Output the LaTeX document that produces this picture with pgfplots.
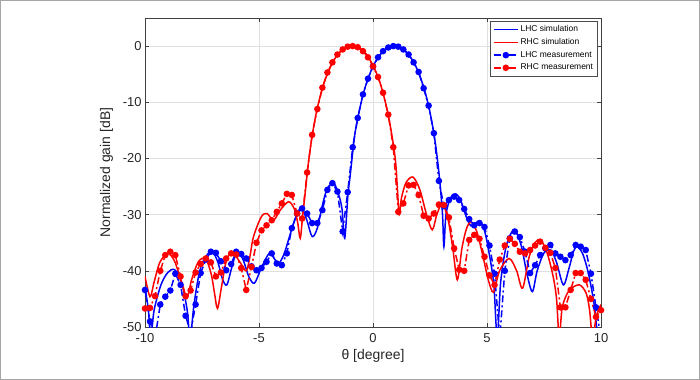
\documentclass[border=0pt]{standalone}
\usepackage{pgfplots}
\pgfplotsset{compat=1.18}
\usepackage{fontspec}
\setmainfont{Liberation Sans}
\definecolor{mblue}{RGB}{0,0,255}
\definecolor{mred}{RGB}{255,0,0}
\begin{document}
\begin{tikzpicture}
\begin{axis}[
  scale only axis, width=456bp, height=309bp,
  xmin=-10, xmax=10, ymin=-50, ymax=5,
  xtick={-10,-5,0,5,10}, xticklabels={-10,-5,0,5,10},
  ytick={-50,-40,-30,-20,-10,0}, yticklabels={-50,-40,-30,-20,-10,0},
  grid=major, major grid style={color=black!12, line width=0.6bp},
  axis line style={color=black!75, line width=0.6bp},
  tick style={color=black!75, line width=0.6bp},
  tick align=inside, major tick length=4bp,
  ticklabel style={font=\fontsize{13}{15}\selectfont, text=black!85},
  xticklabel style={yshift=-3bp},
  label style={font=\fontsize{14}{16}\selectfont, text=black!85},
  ylabel style={yshift=3bp},
  xlabel={θ [degree]}, ylabel={Normalized gain [dB]},
  legend cell align=left,
  legend style={at={(0.993,0.99)}, anchor=north east, font=\fontsize{8.5}{10}\selectfont,
    draw=black!70, line width=0.5bp, fill=white, inner xsep=2.5bp, inner ysep=2.5bp, row sep=1.2bp},
  legend image code/.code={\draw[mark repeat=2,mark phase=2] plot coordinates {(0bp,0bp) (12bp,0bp) (24bp,0bp)};},
]
% LHC simulation
\addplot[mblue, line width=1.5bp, smooth, tension=0.5] coordinates {
(-10,-43)(-9.85,-47)(-9.75,-52)(-9.6,-47)(-9.3,-42.5)(-9.0,-40.3)(-8.7,-39.8)(-8.4,-42)(-8.15,-47)(-8.02,-52)(-7.85,-46)(-7.6,-40)(-7.3,-37.3)(-7.05,-36.5)(-6.8,-38.5)(-6.6,-41.5)(-6.41,-42.5)(-6.2,-39.5)(-5.97,-36.6)(-5.7,-38)(-5.45,-41)(-5.2,-42.2)(-4.9,-39.5)(-4.55,-36.9)(-4.3,-38)(-4.14,-38.7)(-3.9,-37)(-3.55,-32.4)(-3.3,-29.5)(-3.11,-28.9)(-2.9,-31)(-2.67,-33.9)(-2.45,-32.5)(-2.2,-28)(-2.0,-25.3)(-1.72,-24.4)(-1.5,-26.5)(-1.36,-29)(-1.24,-34.2)(-1.1,-26.5)(-1.0,-23)(-0.8,-15.8)(-0.6,-11.5)(-0.4,-8.1)(-0.2,-5.6)(0,-3.6)(0.2,-2.2)(0.4,-1.1)(0.6,-0.4)(0.8,-0.05)(0.94,0)(1.1,-0.07)(1.3,-0.45)(1.5,-1.2)(1.7,-2.3)(1.9,-3.8)(2.1,-5.8)(2.3,-8.4)(2.5,-11.8)(2.7,-16.3)(2.85,-21)(2.95,-25)(3.05,-30)(3.11,-35.7)(3.2,-30)(3.4,-27)(3.63,-26.3)(3.85,-27.5)(4.1,-30.5)(4.3,-32)(4.5,-31.5)(4.7,-31.2)(4.9,-33)(5.1,-37)(5.3,-42.5)(5.45,-52)(5.6,-42)(5.85,-35.5)(6.19,-32.7)(6.5,-35.5)(6.75,-40.5)(6.99,-43.7)(7.2,-40)(7.5,-36.8)(7.8,-36.3)(8.05,-38.5)(8.35,-42.5)(8.6,-39.5)(8.8,-36.5)(8.96,-35.7)(9.2,-37)(9.45,-40.5)(9.7,-46)(9.85,-52)
};
\addlegendentry{LHC simulation}
% RHC simulation
\addplot[mred, line width=1.5bp, smooth, tension=0.5] coordinates {
(-10,-41)(-9.78,-44.6)(-9.6,-42)(-9.35,-38.5)(-9.0,-36.9)(-8.7,-38.3)(-8.4,-42)(-8.17,-44.9)(-7.95,-41.5)(-7.66,-38.4)(-7.35,-37.8)(-7.1,-40.5)(-6.95,-44)(-6.82,-46.7)(-6.65,-43)(-6.45,-38.5)(-6.26,-37)(-6.0,-37.5)(-5.75,-39)(-5.55,-40)(-5.4,-37.5)(-5.24,-33.9)(-4.9,-30.4)(-4.65,-29.8)(-4.36,-31)(-4.07,-29.2)(-3.7,-27.7)(-3.45,-29)(-3.3,-31.5)(-3.19,-34.2)(-3.08,-30)(-2.97,-26)(-2.85,-21.4)(-2.7,-16.8)(-2.5,-12.1)(-2.3,-8.7)(-2.1,-6)(-1.9,-4)(-1.7,-2.4)(-1.5,-1.3)(-1.3,-0.5)(-1.1,-0.08)(-0.92,0)(-0.7,-0.12)(-0.5,-0.6)(-0.3,-1.4)(-0.1,-2.7)(0.1,-4.3)(0.3,-6.4)(0.5,-9.3)(0.7,-12.9)(0.9,-17.7)(1.0,-21)(1.08,-26)(1.15,-30)(1.25,-27)(1.45,-24.3)(1.75,-23.3)(2.05,-25.5)(2.35,-30)(2.6,-32.7)(2.8,-30)(3.04,-28)(3.3,-31)(3.5,-36)(3.7,-41.6)(3.9,-36)(4.1,-32.5)(4.3,-31.3)(4.55,-33)(4.8,-37)(5.05,-41.5)(5.28,-43.8)(5.55,-40)(5.97,-37.8)(6.3,-40)(6.56,-43.1)(6.85,-37.5)(7.1,-35)(7.36,-34.5)(7.65,-37)(7.9,-41)(8.05,-45)(8.17,-52)(8.3,-46.5)(8.6,-43.5)(9.05,-42.5)(9.35,-44)(9.5,-47)(9.63,-52)(9.8,-48)(10,-46)
};
\addlegendentry{RHC simulation}
% LHC measurement
\addplot[mblue, line width=1.5bp, dash pattern=on 7bp off 3bp on 2bp off 3bp, mark=*, mark size=2.5bp, mark options={solid}] coordinates {
(-10,-43.4)(-9.78,-49)(-9.56,-52)(-9.33,-46)(-9.11,-44.6)(-8.89,-43.5)(-8.67,-40.5)(-8.44,-42.5)(-8.22,-48)(-8,-51)(-7.78,-46)(-7.56,-40.4)(-7.33,-38)(-7.11,-36.6)(-6.89,-36.8)(-6.67,-38.3)(-6.44,-39.9)(-6.22,-38.8)(-6,-36.6)(-5.78,-37)(-5.56,-37.8)(-5.33,-39.2)(-5.11,-39.9)(-4.89,-39.5)(-4.67,-38.4)(-4.44,-36.9)(-4.22,-38.7)(-4,-39)(-3.78,-36.9)(-3.56,-32.4)(-3.33,-29.8)(-3.11,-28.9)(-2.89,-29.8)(-2.67,-31.5)(-2.44,-31.5)(-2.22,-29.2)(-2,-25.6)(-1.78,-24.4)(-1.56,-25.9)(-1.33,-33)(-1.11,-26)(-0.89,-18)(-0.67,-12.8)(-0.44,-8.6)(-0.22,-5.8)(0,-3.6)(0.22,-2)(0.44,-0.9)(0.67,-0.25)(0.89,0)(1.11,-0.1)(1.33,-0.6)(1.56,-1.5)(1.78,-2.9)(2,-4.6)(2.22,-7.5)(2.44,-10.6)(2.67,-15.5)(2.89,-24)(3.11,-28.5)(3.33,-27.4)(3.56,-26.8)(3.78,-27.4)(4,-29)(4.22,-30.8)(4.44,-31.9)(4.67,-31.5)(4.89,-32.2)(5.11,-35.5)(5.33,-40.5)(5.56,-52)(5.78,-40)(6,-34.2)(6.22,-33)(6.44,-34)(6.67,-36.6)(6.89,-40.4)(7.11,-39)(7.33,-37.2)(7.56,-36)(7.78,-35.4)(8,-36.9)(8.22,-37.5)(8.44,-38.1)(8.67,-37.2)(8.89,-35.4)(9.11,-35.7)(9.33,-36.3)(9.56,-40.5)(9.78,-46.5)(10,-52)
};
\addlegendentry{LHC measurement}
% RHC measurement
\addplot[mred, line width=1.5bp, dash pattern=on 7bp off 3bp on 2bp off 3bp, mark=*, mark size=2.5bp, mark options={solid}] coordinates {
(-10,-46.7)(-9.78,-46.6)(-9.56,-44.5)(-9.33,-40)(-9.11,-37.2)(-8.89,-36.6)(-8.67,-37.2)(-8.44,-41)(-8.22,-44.5)(-8,-43.5)(-7.78,-40.3)(-7.56,-38.8)(-7.33,-37.8)(-7.11,-38.5)(-6.89,-41)(-6.67,-40.3)(-6.44,-37.8)(-6.22,-36.9)(-6,-37.1)(-5.78,-39.5)(-5.56,-43.4)(-5.33,-39.3)(-5.11,-35)(-4.89,-32.8)(-4.67,-31.9)(-4.44,-31)(-4.22,-29.5)(-4,-28)(-3.78,-26.3)(-3.56,-26.5)(-3.33,-29.8)(-3.11,-30.7)(-2.89,-22.5)(-2.67,-15.8)(-2.44,-11.2)(-2.22,-7.4)(-2,-4.7)(-1.78,-2.9)(-1.56,-1.5)(-1.33,-0.6)(-1.11,-0.1)(-0.89,0)(-0.67,-0.2)(-0.44,-0.9)(-0.22,-2)(0,-3.6)(0.22,-5.5)(0.44,-8.3)(0.67,-12.2)(0.89,-18)(1.11,-29.5)(1.33,-28)(1.56,-24.8)(1.78,-24.7)(2,-26.5)(2.22,-30.2)(2.44,-30.7)(2.67,-29.8)(2.89,-28.2)(3.11,-28.3)(3.33,-30.5)(3.56,-36)(3.78,-39.8)(4,-40)(4.22,-34.5)(4.44,-33.6)(4.67,-34.3)(4.89,-37.5)(5.11,-40.8)(5.33,-42.5)(5.56,-38)(5.78,-35.5)(6,-34.3)(6.22,-35.2)(6.44,-36.6)(6.67,-36.9)(6.89,-36.3)(7.11,-35.5)(7.33,-34.8)(7.56,-35.9)(7.78,-36.8)(8,-39.5)(8.22,-46.5)(8.44,-46.5)(8.67,-43.4)(8.89,-40.4)(9.11,-40.4)(9.33,-41.6)(9.56,-45)(9.78,-48.2)(10,-47)
};
\addlegendentry{RHC measurement}
\end{axis}
\pgfresetboundingbox
\draw[black!35, line width=1.2bp] (-144.4bp,-52.4bp) rectangle (554.4bp,326.4bp);
\useasboundingbox (-145bp,-53bp) rectangle (555bp,327bp);
\end{tikzpicture}
\end{document}
